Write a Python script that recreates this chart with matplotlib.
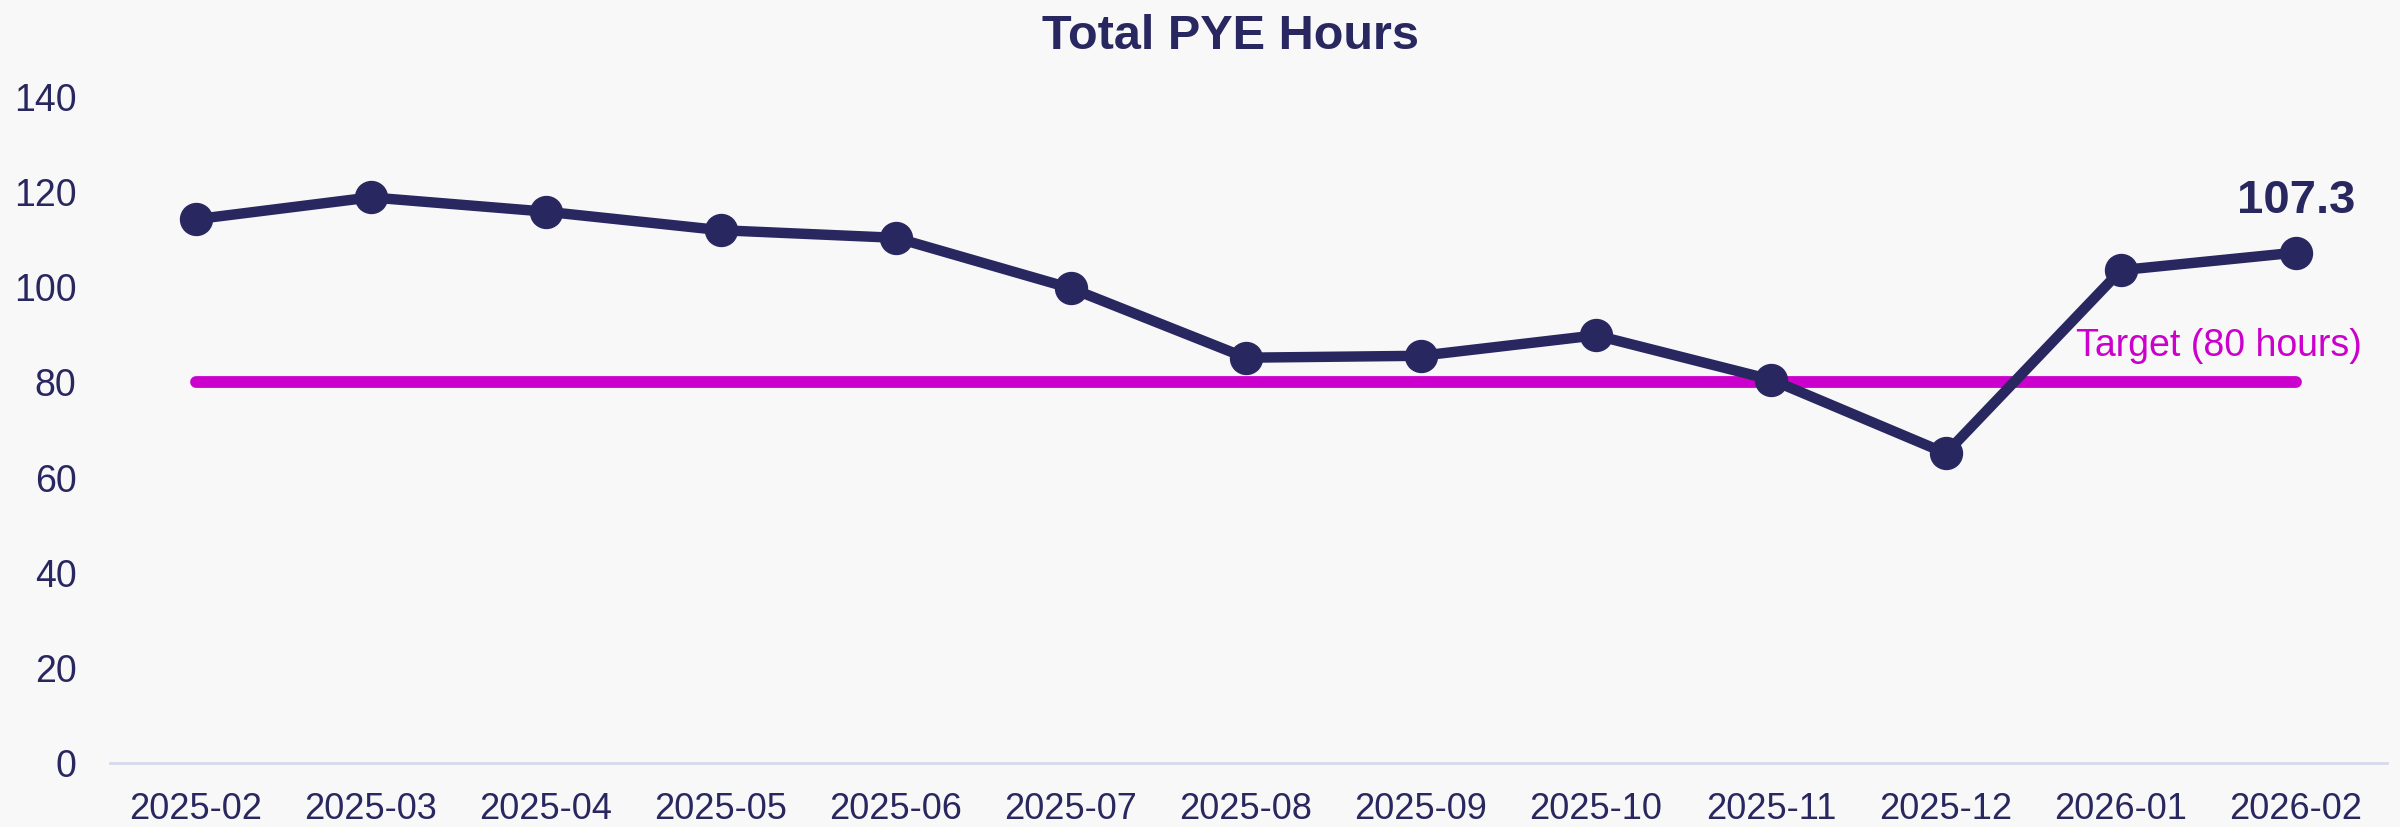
import numpy as np
import matplotlib.pyplot as plt

months = ["2025-02", "2025-03", "2025-04", "2025-05", "2025-06", "2025-07",
          "2025-08", "2025-09", "2025-10", "2025-11", "2025-12", "2026-01", "2026-02"]
hours = [114.3, 118.9, 115.9, 112.0, 110.4, 99.8, 85.2, 85.6, 89.9, 80.6, 65.1, 103.6, 107.3]
target = 80
y_ticks = [0, 20, 40, 60, 80, 100, 120, 140]

navy = "#29275f"
magenta = "#cc00cc"
bg = "#f8f8f8"

plt.rcParams['font.family'] = ['Liberation Sans', 'DejaVu Sans']

fig = plt.figure(figsize=(24, 8.27), dpi=100, facecolor=bg)
ax = fig.add_axes([0.0458, 0.0774, 0.9488, 0.8053], facecolor=bg)

x = np.arange(len(months))
ax.plot(x, hours, color=navy, linewidth=7.5, marker='o', markersize=23,
        zorder=3, clip_on=False)
ax.plot([x[0], x[-1]], [target, target], color=magenta, linewidth=8.5,
        solid_capstyle='round', zorder=2)

ax.annotate("Target (80 hours)", xy=(x[-1], target), xytext=(66, 36),
            textcoords='offset pixels', ha='right', va='center',
            color=magenta, fontsize=27)
ax.annotate(f"{hours[-1]:.1f}", xy=(x[-1], hours[-1]), xytext=(0, 52),
            textcoords='offset pixels', ha='center', va='center',
            color=navy, fontsize=34, fontweight='bold')

ax.set_xlim(-0.49, len(months) - 0.48)
ax.set_ylim(0, 140)
ax.set_xticks(x)
ax.set_xticklabels(months)
ax.set_yticks(y_ticks)
ax.tick_params(axis='both', length=0, labelsize=26, labelcolor=navy)
ax.tick_params(axis='y', pad=24, labelsize=27)
ax.tick_params(axis='x', pad=21)

for s in ['top', 'right', 'left']:
    ax.spines[s].set_visible(False)
ax.spines['bottom'].set_color("#d8d8f0")
ax.spines['bottom'].set_linewidth(2)

fig.text(0.5125, 0.956, "Total PYE Hours", ha='center', va='center',
         fontsize=35, fontweight='bold', color=navy)

fig.savefig("out.png", dpi=100, facecolor=bg)
